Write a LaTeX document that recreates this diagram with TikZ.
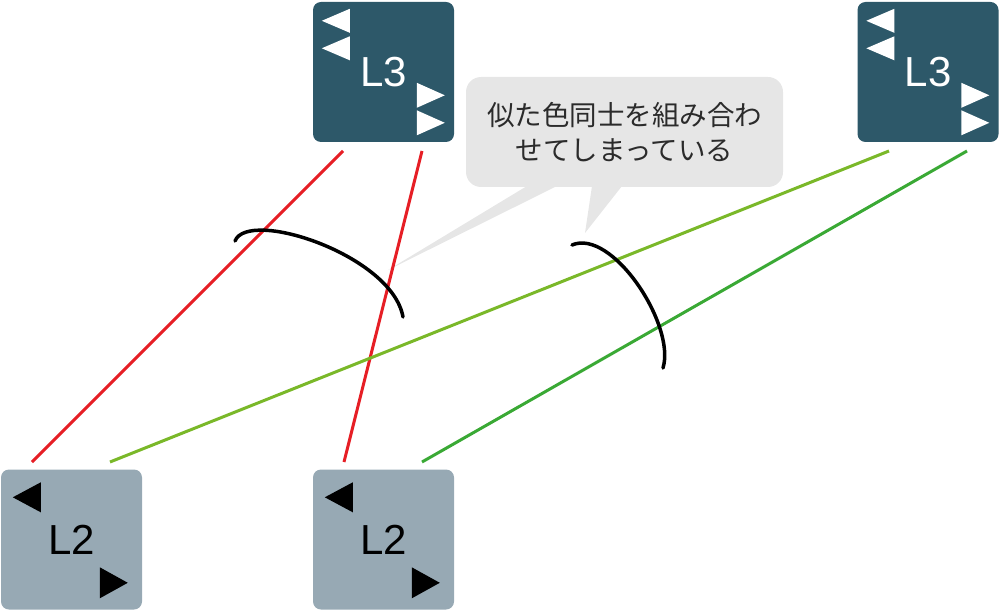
\documentclass[tikz,border=0pt]{standalone}
\usepackage{fontspec}
\setsansfont{Liberation Sans}
\newfontfamily\cjk{Noto Sans CJK JP}
\usetikzlibrary{calc}
\definecolor{lthreecol}{HTML}{2D5869}
\definecolor{ltwocol}{HTML}{97A9B4}
\definecolor{redline}{HTML}{E61E25}
\definecolor{lgreen}{HTML}{7AB829}
\definecolor{dgreen}{HTML}{3AA935}
\definecolor{bubble}{HTML}{E6E6E6}
\definecolor{bubbletext}{HTML}{2B2B2B}
\tikzset{
  box/.style={minimum width=141pt, minimum height=140pt, inner sep=0pt, rounded corners=8pt,
    font=\sffamily\fontsize{42}{42}\selectfont},
  lthree/.style={box, fill=lthreecol, text=white},
  ltwo/.style={box, fill=ltwocol, text=black},
  link/.style={line width=3pt},
  bracket/.style={line width=3.5pt, line cap=round, black},
}
% triangle pointing left: #1 node, #2 tip x, #3 tip y, #4 base x, #5 half height
\newcommand\trileft[6]{\fill[#6] ($(#1.north west)+(#2,#3)$) -- ($(#1.north west)+(#4,#3-#5)$) -- ($(#1.north west)+(#4,#3+#5)$) -- cycle;}
\newcommand\triright[6]{\fill[#6] ($(#1.north west)+(#2,#3)$) -- ($(#1.north west)+(#4,#3-#5)$) -- ($(#1.north west)+(#4,#3+#5)$) -- cycle;}
\begin{document}
\begin{tikzpicture}[x=1pt,y=-1pt]
\useasboundingbox (0,0) rectangle (1000,612);
% speech bubble
\fill[bubble, rounded corners=15pt] (466,77) rectangle (783,187);
\coordinate (tailA) at (388,270);
\coordinate (tailB) at (585,233);
\fill[bubble] (527,186) -- (557,186) -- (tailA) -- cycle;
\fill[bubble] (592,186) -- (622,186) -- (tailB) -- cycle;
\node[font=\cjk\fontsize{27.5}{35}\selectfont, text=bubbletext, align=center] (msg) at (624.5,132) {似た色同士を組み合わ\\せてしまっている};
% boxes
\node[lthree] (l3a) at (383.5,72) {L3};
\node[lthree] (l3b) at (928,72) {L3};
\node[ltwo] (l2a) at (71.5,539.5) {L2};
\node[ltwo] (l2b) at (383.5,539.5) {L2};
% triangles
\foreach \b in {l3a,l3b}{
  \trileft{\b}{9}{19}{37}{12}{white}
  \trileft{\b}{9}{46.5}{37}{12}{white}
  \triright{\b}{132}{93.5}{104}{12.5}{white}
  \triright{\b}{132}{121}{104}{12.5}{white}
}
\foreach \b in {l2a,l2b}{
  \trileft{\b}{12}{28}{40}{15}{black}
  \triright{\b}{127}{113.5}{99}{15.5}{black}
}
% connector end points
\coordinate (r1t) at (343,151);
\coordinate (r1b) at (32,462);
\coordinate (r2t) at (422,151);
\coordinate (r2b) at (344,462);
\coordinate (g1t) at (889,151);
\coordinate (g1b) at (110,462);
\coordinate (g2t) at (967,151);
\coordinate (g2b) at (422,462);
\draw[link, redline] (r1t) -- (r1b);
\draw[link, redline] (r2t) -- (r2b);
\draw[link, lgreen] (g1t) -- (g1b);
\draw[link, dgreen] (g2t) -- (g2b);
% brackets
\coordinate (a1s) at (235,241);
\coordinate (a1e) at (403,317);
\coordinate (a2s) at (572,245);
\coordinate (a2e) at (663,368);
\draw[bracket] (a1s) .. controls (248,208) and (392,255) .. (a1e);
\draw[bracket] (a2s) .. controls (612,228) and (676,325) .. (a2e);
\end{tikzpicture}
\end{document}
